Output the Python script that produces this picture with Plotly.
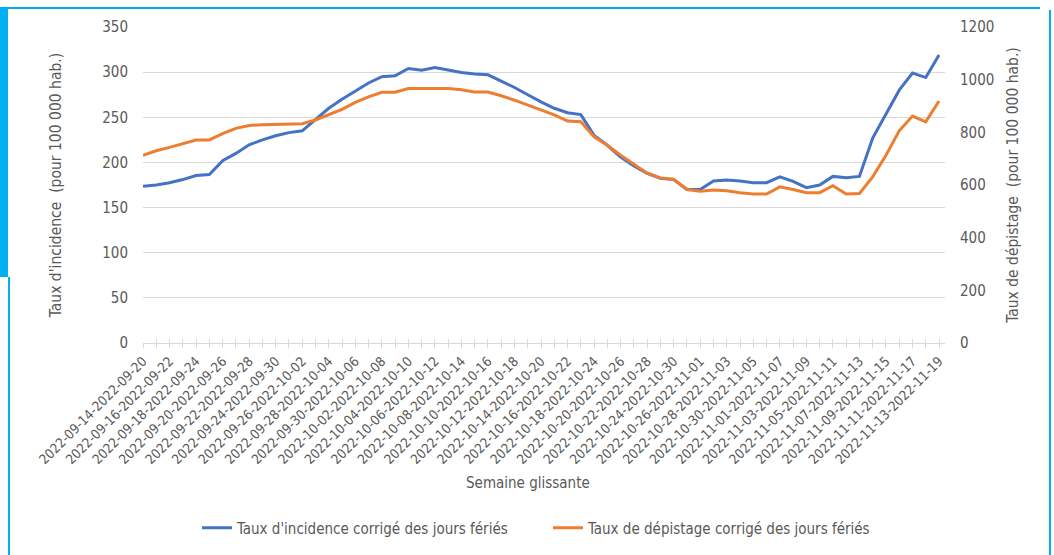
import datetime as dt
import plotly.graph_objects as go

# rolling 7-day windows, one per day
start = dt.date(2022, 9, 14)
weeks = []
for k in range(61):
    d0 = start + dt.timedelta(days=k)
    d1 = d0 + dt.timedelta(days=6)
    weeks.append(f"{d0.isoformat()}-{d1.isoformat()}")

incidence = [
    173.5, 175, 177.5, 181, 185.5, 186.5, 202, 210, 219.5, 225,
    229.5, 233, 235, 247, 260, 270, 279, 288, 295, 296,
    304, 302, 305, 302, 299.5, 298, 297, 290, 283, 275,
    267, 260, 255, 253, 230, 219, 206, 196, 188, 182.5,
    181, 170, 170, 179.5, 180.5, 179.5, 177.5, 177.5, 184, 179,
    172, 175, 184.5, 183, 184.5, 227, 254, 280, 299, 294,
    319,
]
depistage = [
    713, 730, 743, 758, 771, 771, 795, 815, 826, 829,
    830, 833, 833, 847, 866, 887, 914, 935, 952, 952,
    966, 966, 968, 966, 962, 953, 953, 939, 922, 904,
    885, 866, 843, 840, 783, 751, 713, 679, 645, 627,
    622, 583, 576, 581, 578, 571, 566, 566, 593, 583,
    571, 571, 597, 566, 568, 631, 713, 806, 862, 840,
    919,
]

W, H = 1054, 555
L, R, T, B = 143, 945, 27, 343   # plot area in pixels
FONT = "Liberation Sans Narrow, DejaVu Sans Condensed, Lato, sans-serif"
GREY = "#595959"
GRID = "#D9D9D9"
CYAN = "#00B0F0"


def px(x, y):
    """pixel position -> paper coords"""
    return (x - L) / (R - L), (B - y) / (B - T)


fig = go.Figure()
fig.add_trace(go.Scatter(x=weeks, y=incidence, mode="lines",
                         name="Taux d'incidence corrigé des jours fériés",
                         line=dict(color="#4472C4", width=3)))
fig.add_trace(go.Scatter(x=weeks, y=depistage, mode="lines", yaxis="y2",
                         name="Taux de dépistage corrigé des jours fériés",
                         line=dict(color="#ED7D31", width=3)))
# helper trace so the inside tick axis is drawn
fig.add_trace(go.Scatter(x=weeks, y=[None] * len(weeks), xaxis="x2",
                         showlegend=False, hoverinfo="skip"))

xrange = [0, len(weeks) - 1 + 0.45]
ticktext = [w if i % 2 == 0 else "" for i, w in enumerate(weeks)]

fig.update_layout(
    width=W, height=H,
    margin=dict(l=L, r=W - R, t=T, b=H - B, autoexpand=False),
    paper_bgcolor="white", plot_bgcolor="white",
    font=dict(family=FONT, color=GREY, size=15),
    xaxis=dict(type="category", range=xrange, tickmode="array",
               tickvals=weeks, ticktext=ticktext, tickangle=-45,
               tickfont=dict(size=13.5), ticks="outside", ticklen=4,
               tickcolor=GRID, showline=True, linecolor=GRID,
               showgrid=False, zeroline=False, automargin=False),
    xaxis2=dict(type="category", overlaying="x", range=xrange,
                tickmode="array", tickvals=weeks, ticks="inside",
                ticklen=4, tickcolor=GRID, showticklabels=False,
                showline=False, showgrid=False, zeroline=False,
                automargin=False),
    yaxis=dict(range=[0, 350], dtick=50, showgrid=True, gridcolor=GRID,
               gridwidth=1, zeroline=False, showline=False,
               tickfont=dict(size=15), ticklabelstandoff=14,
               automargin=False,
               title=dict(text="Taux d'incidence  (pour 100 000 hab.)",
                          font=dict(size=15.5), standoff=36)),
    yaxis2=dict(range=[0, 1200], dtick=200, overlaying="y", side="right",
                showgrid=False, zeroline=False, showline=False,
                tickfont=dict(size=15), ticklabelstandoff=14,
                automargin=False,
                title=dict(text="Taux de dépistage  (pour 100 000 hab.)",
                           font=dict(size=15.5), standoff=13)),
    legend=dict(orientation="h", x=px(197, 0)[0], xanchor="left",
                y=px(0, 528)[1], yanchor="middle",
                font=dict(size=15), bgcolor="rgba(0,0,0,0)",
                itemwidth=30, entrywidth=306),
    showlegend=True,
)

ax, ay = px(528, 483)
fig.add_annotation(text="Semaine glissante", x=ax, y=ay, xref="paper",
                   yref="paper", yanchor="middle", showarrow=False,
                   font=dict(size=15))

# cyan frame around the chart
x0, y0 = px(0, 8)
x1, y1 = px(8, 277)
fig.add_shape(type="rect", xref="paper", yref="paper", x0=x0, y0=y0,
              x1=x1, y1=y1, fillcolor=CYAN, line=dict(width=0), layer="above")
xa, ya = px(0, 8)
xb, _ = px(1040, 8)
fig.add_shape(type="line", xref="paper", yref="paper", x0=xa, y0=ya,
              x1=xb, y1=ya, line=dict(color=CYAN, width=2))
xr, yt = px(1050, 10)
_, yb = px(0, 560)
fig.add_shape(type="line", xref="paper", yref="paper", x0=xr, y0=yt,
              x1=xr, y1=yb, line=dict(color=CYAN, width=2))
xl, yl = px(9, 277)
fig.add_shape(type="line", xref="paper", yref="paper", x0=xl, y0=yl,
              x1=xl, y1=yb, line=dict(color=CYAN, width=2))

# page body has an 8px default margin; drop it so the figure sits at 0,0
fig.write_html("out.html", config={"displayModeBar": False},
               post_script="document.body.style.margin='0';")
